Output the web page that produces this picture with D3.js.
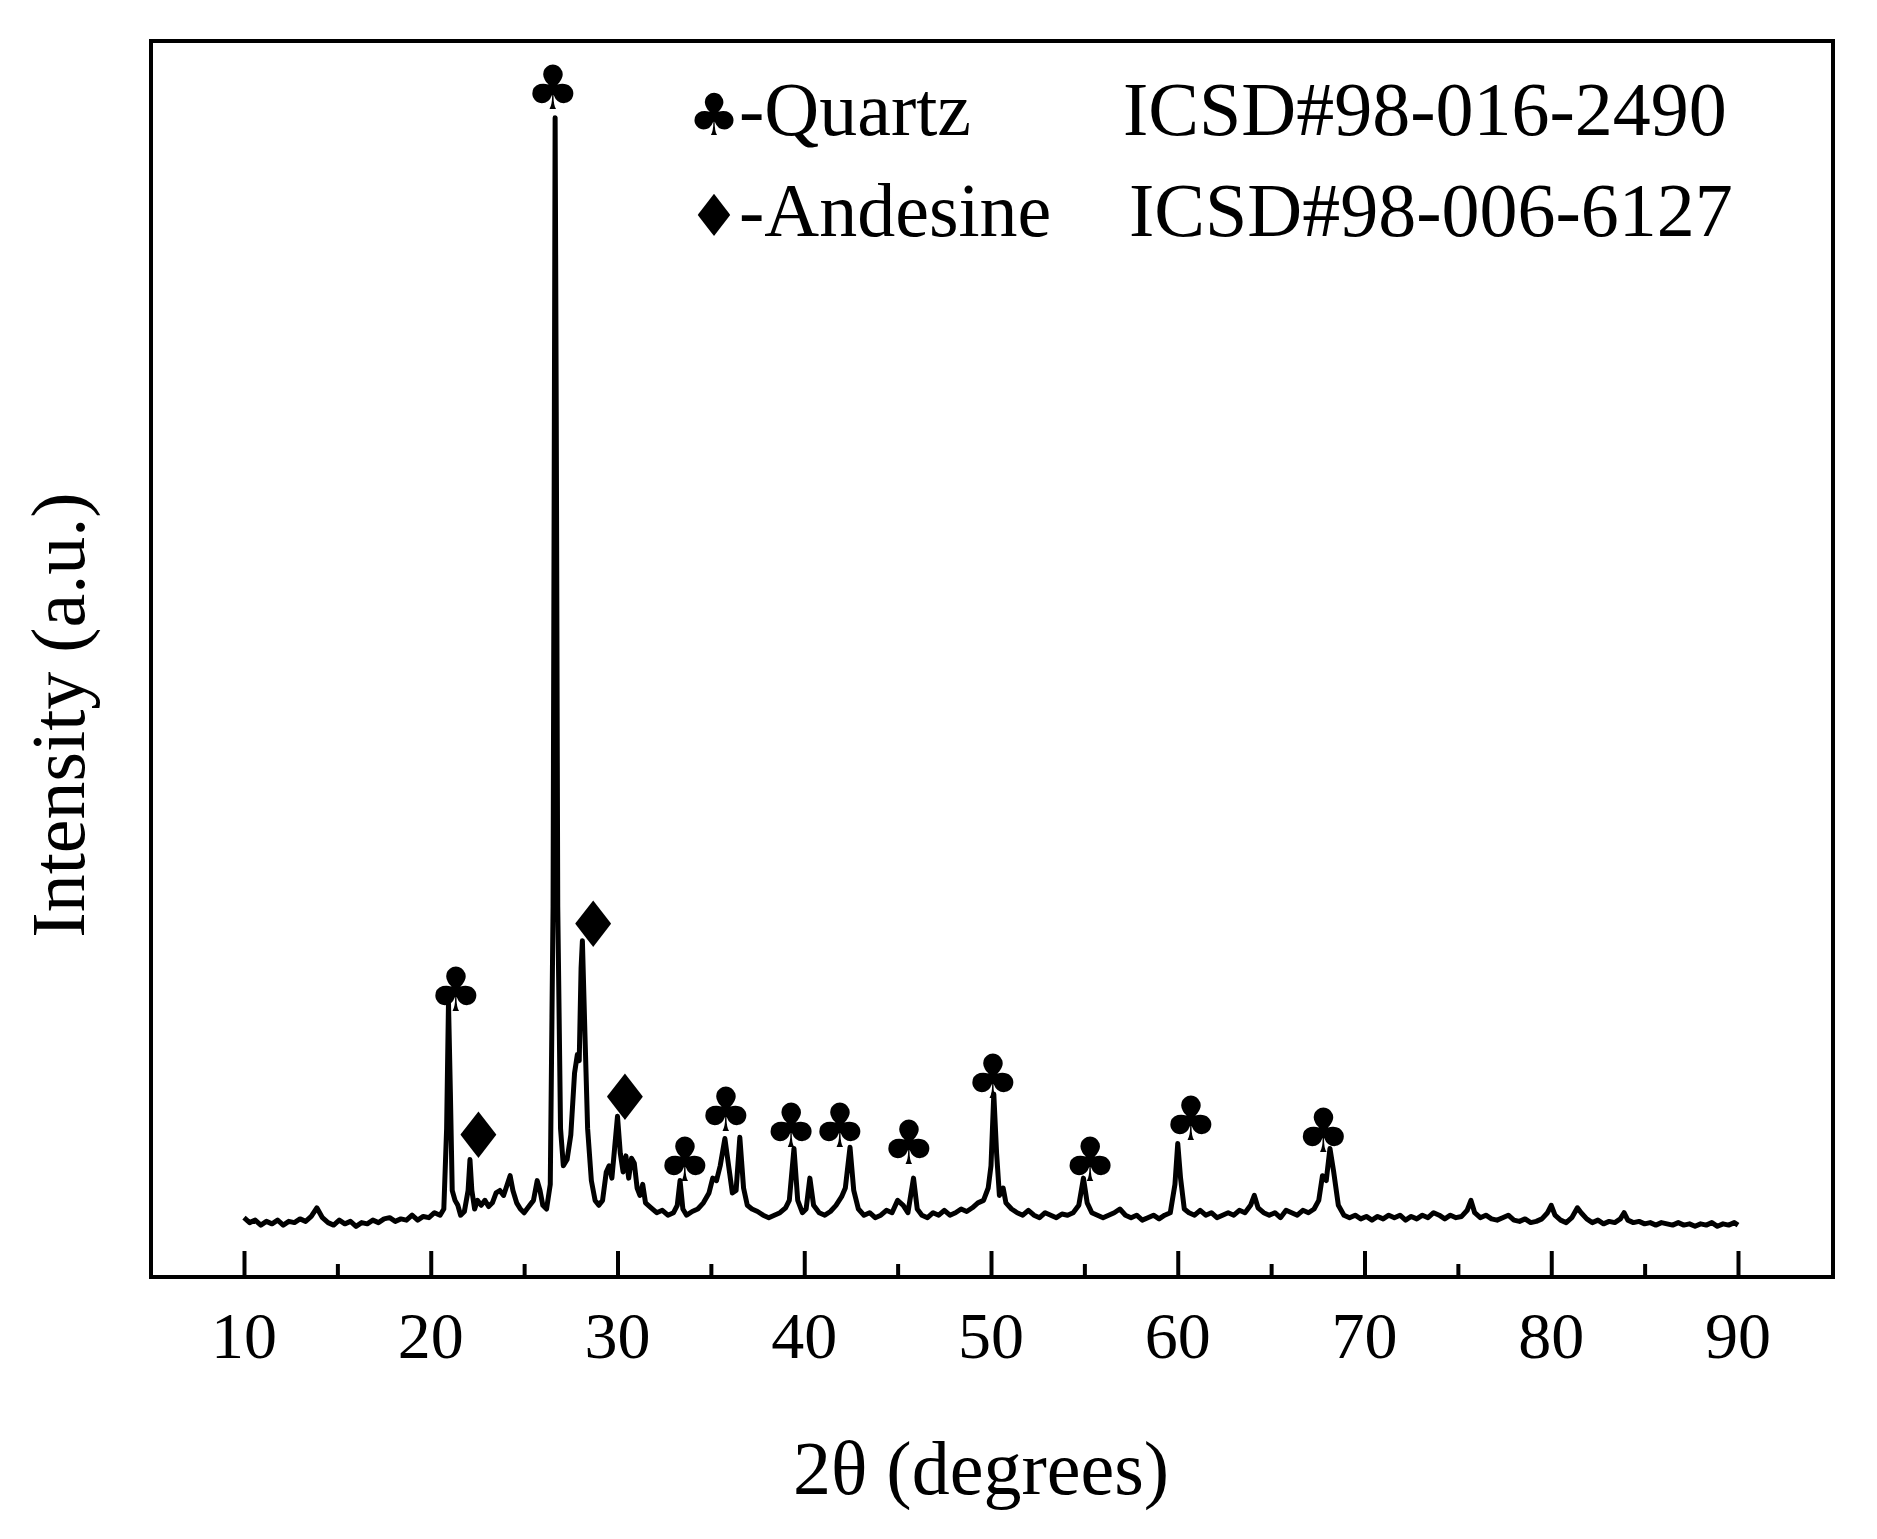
<!DOCTYPE html>
<html><head><meta charset="utf-8">
<script src="https://cdn.jsdelivr.net/npm/d3@7"></script>
<style>body{margin:0;background:#fff}svg{display:block}</style>
</head><body><svg id="c" width="1877" height="1539"></svg>
<script>
const xrdPoints = [
[10.0,48],[10.3,44],[10.6,46],[10.9,42],[11.2,45],[11.5,43],[11.8,46],[12.1,42],[12.4,45],[12.7,44],[13.0,47],[13.3,45],[13.6,49],[13.9,56],[14.2,48],[14.5,44],[14.8,42],[15.1,46],[15.4,43],[15.7,45],[16.0,41],[16.3,44],[16.6,43],[16.9,46],[17.2,44],[17.5,47],[17.8,48],[18.1,45],[18.4,47],[18.7,46],[19.0,50],[19.3,46],[19.6,49],[19.9,48],[20.2,52],[20.5,50],[20.7,55],[20.85,120],[20.95,222],[21.05,150],[21.15,70],[21.3,62],[21.45,58],[21.6,50],[21.8,53],[22.0,70],[22.1,95],[22.2,70],[22.35,55],[22.5,62],[22.7,58],[22.9,62],[23.1,57],[23.3,60],[23.5,68],[23.7,70],[23.9,66],[24.1,75],[24.25,82],[24.4,70],[24.6,60],[24.8,55],[25.0,52],[25.2,56],[25.5,62],[25.7,78],[25.85,70],[26.0,58],[26.2,55],[26.4,75],[26.55,300],[26.62,700],[26.66,938],[26.72,700],[26.8,300],[26.95,120],[27.1,90],[27.3,95],[27.5,115],[27.7,165],[27.85,180],[27.95,175],[28.05,250],[28.12,272],[28.25,200],[28.4,120],[28.6,78],[28.8,62],[29.0,58],[29.2,62],[29.4,85],[29.55,90],[29.7,80],[29.85,105],[30.0,130],[30.15,100],[30.3,85],[30.45,98],[30.6,80],[30.75,96],[30.9,92],[31.05,72],[31.2,66],[31.35,75],[31.5,60],[31.8,56],[32.1,52],[32.4,54],[32.7,50],[33.0,52],[33.2,58],[33.35,78],[33.5,55],[33.7,50],[34.0,53],[34.3,55],[34.6,60],[34.9,68],[35.1,80],[35.3,78],[35.5,90],[35.75,112],[35.95,90],[36.15,68],[36.35,70],[36.55,113],[36.75,72],[36.95,58],[37.2,55],[37.5,53],[37.8,50],[38.1,48],[38.4,50],[38.7,52],[39.0,56],[39.2,62],[39.45,104],[39.65,62],[39.9,52],[40.1,55],[40.3,80],[40.5,58],[40.8,52],[41.1,50],[41.4,53],[41.7,58],[42.0,65],[42.2,72],[42.45,105],[42.65,70],[42.9,55],[43.2,50],[43.5,52],[43.8,48],[44.1,50],[44.4,54],[44.7,52],[45.0,62],[45.3,58],[45.55,52],[45.85,80],[46.05,55],[46.3,50],[46.6,48],[46.9,52],[47.2,50],[47.5,54],[47.8,50],[48.1,52],[48.4,55],[48.7,53],[49.0,56],[49.3,60],[49.6,62],[49.85,72],[50.0,90],[50.15,148],[50.3,100],[50.45,66],[50.65,72],[50.8,60],[51.1,55],[51.4,52],[51.7,50],[52.0,54],[52.3,50],[52.6,48],[52.9,52],[53.2,50],[53.5,48],[53.8,51],[54.1,50],[54.4,52],[54.7,58],[54.95,80],[55.15,60],[55.4,52],[55.7,50],[56.0,48],[56.3,50],[56.6,52],[56.9,55],[57.2,50],[57.5,48],[57.8,50],[58.1,46],[58.4,48],[58.7,50],[59.0,47],[59.3,50],[59.6,52],[59.85,75],[60.0,108],[60.15,80],[60.35,55],[60.6,52],[60.9,50],[61.2,54],[61.5,50],[61.8,52],[62.1,48],[62.4,50],[62.7,52],[63.0,50],[63.3,54],[63.6,52],[63.9,58],[64.1,66],[64.3,56],[64.6,52],[64.9,50],[65.2,52],[65.5,48],[65.8,54],[66.1,52],[66.4,50],[66.7,54],[67.0,52],[67.3,55],[67.55,62],[67.75,82],[67.95,78],[68.15,104],[68.35,85],[68.6,58],[68.9,50],[69.2,48],[69.5,50],[69.8,47],[70.1,49],[70.4,46],[70.7,49],[71.0,47],[71.3,50],[71.6,48],[71.9,50],[72.2,46],[72.5,49],[72.8,47],[73.1,50],[73.4,48],[73.7,52],[74.0,50],[74.3,47],[74.6,50],[74.9,48],[75.2,49],[75.5,54],[75.7,62],[75.9,52],[76.2,48],[76.5,50],[76.8,47],[77.1,46],[77.4,48],[77.7,50],[78.0,46],[78.3,45],[78.6,47],[78.9,44],[79.2,45],[79.5,47],[79.8,52],[80.0,58],[80.2,50],[80.5,46],[80.8,44],[81.1,48],[81.4,56],[81.6,52],[81.9,47],[82.2,44],[82.5,46],[82.8,43],[83.1,45],[83.4,44],[83.7,47],[83.9,52],[84.1,46],[84.4,44],[84.7,45],[85.0,43],[85.3,44],[85.6,42],[85.9,44],[86.2,43],[86.5,42],[86.8,44],[87.1,42],[87.4,43],[87.7,41],[88.0,43],[88.3,42],[88.6,44],[88.9,41],[89.2,43],[89.5,42],[89.8,44],[90.0,42]
];
const quartzMarks = [[26.54,961],[21.35,231],[33.6,94],[35.8,134],[39.3,121],[41.9,121],[45.6,108],[50.1,161],[55.3,94],[60.7,127],[67.8,117]];
const andesineMarks = [[22.56,113],[28.7,284],[30.4,144]];
const xTicks = [10,20,30,40,50,60,70,80,90];
const xMinorTicks = [15,25,35,45,55,65,75,85];
const legendRows = [["♣","-Quartz","ICSD#98-016-2490"],["♦","-Andesine","ICSD#98-006-6127"]];

const svg = d3.select("#c");
const L=151,R=1833,T=41,B=1277;
const x = d3.scaleLinear().domain([10,90]).range([244,1738]);
const y = d3.scaleLinear().domain([0,1000]).range([B,T]);
const serif = "'Liberation Serif','Times New Roman',serif";

svg.append("path").datum(xrdPoints)
  .attr("d", d3.line().x(d=>x(d[0])).y(d=>y(d[1])))
  .attr("fill","none").attr("stroke","#000").attr("stroke-width",5).attr("stroke-linejoin","round");

svg.append("rect").attr("x",L).attr("y",T).attr("width",R-L).attr("height",B-T)
  .attr("fill","none").attr("stroke","#000").attr("stroke-width",4);

const ax = svg.append("g").attr("transform",`translate(0,${B})`)
  .call(d3.axisBottom(x).tickValues(xTicks).tickSize(-26).tickFormat(""));
ax.select(".domain").remove();
ax.selectAll("line").attr("stroke-width",4);
const axm = svg.append("g").attr("transform",`translate(0,${B})`)
  .call(d3.axisBottom(x).tickValues(xMinorTicks).tickSize(-13).tickFormat(""));
axm.select(".domain").remove();
axm.selectAll("line").attr("stroke-width",4);

svg.selectAll(".tl").data(xTicks).join("text")
  .attr("x",d=>x(d)).attr("y",1358).attr("text-anchor","middle")
  .attr("font-family",serif).attr("font-size",66).text(d=>d);

svg.append("text").attr("x",x(50)-10).attr("y",1494).attr("text-anchor","middle")
  .attr("font-family",serif).attr("font-size",76).text("2θ (degrees)");
svg.append("text").attr("transform","translate(84,715) rotate(-90)").attr("text-anchor","middle")
  .attr("font-family",serif).attr("font-size",76).text("Intensity (a.u.)");

const sym = "'DejaVu Sans',sans-serif";
svg.selectAll(".q").data(quartzMarks).join("text")
  .attr("x",d=>x(d[0])).attr("y",d=>y(d[1])+20).attr("text-anchor","middle")
  .attr("font-family",sym).attr("font-size",61).text("♣");
svg.selectAll(".a").data(andesineMarks).join("text")
  .attr("x",d=>x(d[0])).attr("y",d=>y(d[1])+21).attr("text-anchor","middle")
  .attr("font-family",sym).attr("font-size",64).text("♦");

legendRows.forEach((r,i)=>{
  const yy = 135 + i*101;
  svg.append("text").attr("x",688).attr("y",yy).attr("font-family",sym).attr("font-size",58).text(r[0]);
  svg.append("text").attr("x",739).attr("y",yy).attr("font-family",serif).attr("font-size",76).text(r[1]);
  svg.append("text").attr("x",1123+i*6).attr("y",yy).attr("font-family",serif).attr("font-size",76).text(r[2]);
});
</script></body></html>
